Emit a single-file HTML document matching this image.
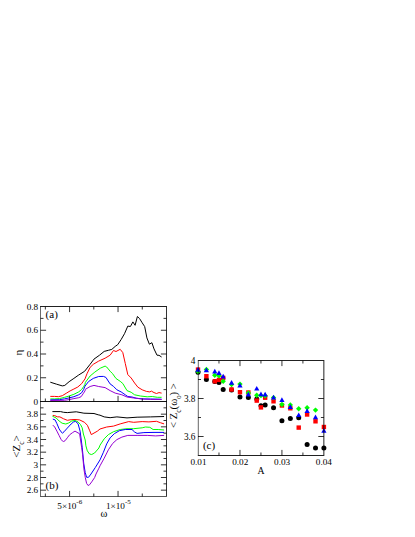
<!DOCTYPE html>
<html><head><meta charset="utf-8"><style>
html,body{margin:0;padding:0;background:#fff;}
svg{display:block;font-family:"Liberation Serif",serif;}
text{fill:#000;}
</style></head><body>
<svg width="415" height="537" viewBox="0 0 415 537">
<rect width="415" height="537" fill="#fff"/>
<polyline points="50.3,382.2 56.6,384.2 62.3,385.9 64.8,385.4 69.1,381.7 73.9,378.4 78.7,375.0 84.6,371.3 90.1,364.3 94.0,359.1 99.5,355.2 104.2,351.4 108.4,350.3 111.8,349.4 115.2,346.4 117.7,344.7 121.1,339.6 124.5,333.7 127.8,326.1 130.4,326.5 132.9,321.9 135.1,325.3 137.4,316.5 139.6,318.6 142.2,322.8 144.7,326.6 146.9,337.9 149.4,344.2 151.9,342.7 154.0,348.9 157.0,355.2 159.0,355.3 161.6,357.0" fill="none" stroke="#000" stroke-width="1.0" stroke-linejoin="round" stroke-linecap="butt"/>
<polyline points="50.3,396.4 54.6,396.4 58.5,396.7 62.3,395.7 66.2,393.3 70.1,390.9 73.9,389.0 77.8,387.0 81.6,383.7 85.0,378.9 87.0,373.7 90.1,367.4 93.3,364.3 98.7,361.1 105.1,358.2 110.1,355.2 113.5,350.5 116.0,351.5 120.2,349.3 122.8,352.6 125.3,363.6 127.8,374.6 131.2,378.0 134.6,383.0 137.9,387.2 142.2,389.8 146.4,391.4 149.8,391.9 151.4,391.1 154.0,392.6 156.5,393.5 159.0,392.6 161.6,393.1" fill="none" stroke="#f00" stroke-width="1.0" stroke-linejoin="round" stroke-linecap="butt"/>
<polyline points="50.3,398.9 54.6,398.9 59.5,398.6 64.3,397.4 69.1,396.0 73.9,394.3 78.7,391.9 81.6,389.5 83.6,386.6 85.0,384.2 85.4,382.3 90.1,376.0 94.8,372.1 100.3,368.2 105.1,366.1 106.7,367.0 110.1,371.2 112.6,373.7 116.0,378.5 120.2,381.3 122.8,383.5 127.0,390.6 131.2,392.3 134.6,394.8 140.5,396.0 147.2,396.8 152.3,396.5 157.3,397.3 161.6,397.3" fill="none" stroke="#0f0" stroke-width="1.0" stroke-linejoin="round" stroke-linecap="butt"/>
<polyline points="50.3,399.9 59.5,399.7 64.3,398.9 69.1,397.9 73.9,396.7 78.7,394.8 81.6,392.8 83.6,389.5 85.0,386.1 88.6,381.5 93.3,378.4 98.7,376.5 103.4,376.4 105.9,377.4 110.1,383.9 113.5,386.4 116.9,389.8 121.1,391.9 125.3,394.8 127.8,396.5 132.0,397.0 136.3,398.2 142.2,398.9 150.6,399.0 161.6,399.2" fill="none" stroke="#00f" stroke-width="1.0" stroke-linejoin="round" stroke-linecap="butt"/>
<polyline points="50.3,400.5 64.3,400.3 69.1,399.6 73.9,398.6 78.7,397.7 81.1,396.7 83.1,393.8 85.0,390.9 85.4,389.3 90.1,386.5 94.0,385.4 98.7,386.5 105.1,387.6 110.1,390.6 115.2,393.1 121.9,394.8 127.0,397.0 133.7,398.0 142.2,399.0 150.6,399.4 161.6,399.5" fill="none" stroke="#9400d3" stroke-width="1.0" stroke-linejoin="round" stroke-linecap="butt"/>
<polyline points="52.4,411.6 60.6,411.6 63.6,412.3 67.3,412.6 75.0,411.9 76.3,411.8 83.9,413.2 94.0,413.5 98.2,414.8 100.0,415.2 104.2,416.9 110.1,417.7 116.9,416.9 127.0,417.9 137.1,417.2 150.6,416.9 164.1,416.5" fill="none" stroke="#000" stroke-width="1.0" stroke-linejoin="round" stroke-linecap="butt"/>
<polyline points="52.8,415.4 54.7,415.6 57.3,416.8 59.9,416.9 63.6,418.8 67.3,420.3 71.1,419.7 75.0,419.5 79.6,419.9 84.5,422.3 87.4,425.3 89.5,430.2 91.3,434.6 97.3,431.2 100.0,429.0 106.7,427.0 113.5,426.1 120.2,423.9 128.7,421.6 133.7,422.3 142.2,421.6 148.9,421.9 156.5,421.3 160.7,422.8 164.1,423.9" fill="none" stroke="#f00" stroke-width="1.0" stroke-linejoin="round" stroke-linecap="butt"/>
<polyline points="52.4,416.2 56.2,418.0 59.1,421.0 62.1,423.2 65.8,424.0 68.8,422.9 71.8,421.0 75.0,420.5 78.0,421.9 80.5,424.5 82.2,427.8 83.4,434.0 85.2,440.0 85.9,445.8 87.3,450.8 89.5,454.0 91.7,454.5 94.6,453.0 98.9,448.0 100.0,445.2 104.2,438.8 108.4,434.6 113.5,431.7 120.2,429.5 127.0,428.7 133.7,428.7 142.2,427.8 145.5,427.0 149.8,427.3 153.1,429.5 158.2,429.5 164.1,430.0" fill="none" stroke="#0f0" stroke-width="1.0" stroke-linejoin="round" stroke-linecap="butt"/>
<polyline points="52.8,419.1 55.1,419.9 56.9,423.6 59.1,428.8 61.0,431.8 62.5,433.1 64.0,431.8 67.3,428.1 71.1,424.0 73.3,422.1 75.0,421.5 75.4,421.4 78.0,423.6 80.1,431.2 82.2,447.2 83.7,463.1 85.2,472.5 86.6,477.3 88.5,477.3 91.0,474.0 95.3,467.5 100.0,459.9 103.4,452.3 106.7,443.9 110.1,437.9 114.3,433.7 119.4,430.7 125.3,429.5 132.0,429.5 134.6,432.0 137.1,433.4 143.9,432.6 154.0,432.4 164.1,432.4" fill="none" stroke="#00f" stroke-width="1.0" stroke-linejoin="round" stroke-linecap="butt"/>
<polyline points="52.8,425.1 54.7,427.0 56.9,431.1 59.1,435.5 61.0,439.3 62.5,441.1 63.6,441.5 65.1,440.7 67.3,437.8 69.6,434.8 72.6,432.6 75.0,431.1 78.0,432.9 79.6,433.7 81.6,447.2 82.6,454.5 83.9,468.9 85.3,477.6 86.6,483.4 88.1,485.5 89.5,484.8 91.7,481.9 94.6,477.6 96.0,474.0 98.9,468.2 100.0,465.8 104.2,458.2 108.4,449.8 112.6,443.5 116.9,439.6 121.9,437.1 127.8,435.4 137.1,435.4 147.2,435.4 155.7,435.9 164.1,435.4" fill="none" stroke="#9400d3" stroke-width="1.0" stroke-linejoin="round" stroke-linecap="butt"/>
<circle cx="198.00" cy="372.30" r="2.5" fill="#000"/>
<circle cx="206.39" cy="379.60" r="2.5" fill="#000"/>
<circle cx="214.79" cy="381.60" r="2.5" fill="#000"/>
<circle cx="218.98" cy="382.50" r="2.5" fill="#000"/>
<circle cx="223.18" cy="389.50" r="2.5" fill="#000"/>
<circle cx="231.57" cy="390.00" r="2.5" fill="#000"/>
<circle cx="239.97" cy="397.10" r="2.5" fill="#000"/>
<circle cx="248.36" cy="397.60" r="2.5" fill="#000"/>
<circle cx="256.75" cy="399.10" r="2.5" fill="#000"/>
<circle cx="260.95" cy="405.80" r="2.5" fill="#000"/>
<circle cx="265.15" cy="404.90" r="2.5" fill="#000"/>
<circle cx="273.54" cy="407.80" r="2.5" fill="#000"/>
<circle cx="281.93" cy="420.70" r="2.5" fill="#000"/>
<circle cx="290.33" cy="418.40" r="2.5" fill="#000"/>
<circle cx="298.72" cy="417.80" r="2.5" fill="#000"/>
<circle cx="307.11" cy="444.40" r="2.5" fill="#000"/>
<circle cx="315.51" cy="447.90" r="2.5" fill="#000"/>
<circle cx="323.90" cy="447.90" r="2.5" fill="#000"/>
<rect x="195.80" y="367.40" width="4.4" height="4.4" fill="#f00"/>
<rect x="204.19" y="374.00" width="4.4" height="4.4" fill="#f00"/>
<rect x="212.59" y="379.10" width="4.4" height="4.4" fill="#f00"/>
<rect x="216.78" y="377.70" width="4.4" height="4.4" fill="#f00"/>
<rect x="220.98" y="375.70" width="4.4" height="4.4" fill="#f00"/>
<rect x="229.37" y="387.30" width="4.4" height="4.4" fill="#f00"/>
<rect x="237.77" y="390.00" width="4.4" height="4.4" fill="#f00"/>
<rect x="246.16" y="390.30" width="4.4" height="4.4" fill="#f00"/>
<rect x="254.55" y="398.40" width="4.4" height="4.4" fill="#f00"/>
<rect x="258.75" y="405.20" width="4.4" height="4.4" fill="#f00"/>
<rect x="262.95" y="395.50" width="4.4" height="4.4" fill="#f00"/>
<rect x="271.34" y="399.10" width="4.4" height="4.4" fill="#f00"/>
<rect x="279.73" y="403.30" width="4.4" height="4.4" fill="#f00"/>
<rect x="288.13" y="406.10" width="4.4" height="4.4" fill="#f00"/>
<rect x="296.52" y="425.40" width="4.4" height="4.4" fill="#f00"/>
<rect x="304.91" y="412.30" width="4.4" height="4.4" fill="#f00"/>
<rect x="313.31" y="419.10" width="4.4" height="4.4" fill="#f00"/>
<rect x="321.70" y="424.80" width="4.4" height="4.4" fill="#f00"/>
<polygon points="195.30,371.50 198.00,368.80 200.70,371.50 198.00,374.20" fill="#0f0"/>
<polygon points="203.69,369.50 206.39,366.80 209.09,369.50 206.39,372.20" fill="#0f0"/>
<polygon points="212.09,375.20 214.79,372.50 217.49,375.20 214.79,377.90" fill="#0f0"/>
<polygon points="216.28,375.70 218.98,373.00 221.68,375.70 218.98,378.40" fill="#0f0"/>
<polygon points="220.48,381.30 223.18,378.60 225.88,381.30 223.18,384.00" fill="#0f0"/>
<polygon points="228.87,384.60 231.57,381.90 234.27,384.60 231.57,387.30" fill="#0f0"/>
<polygon points="237.27,384.10 239.97,381.40 242.67,384.10 239.97,386.80" fill="#0f0"/>
<polygon points="245.66,393.00 248.36,390.30 251.06,393.00 248.36,395.70" fill="#0f0"/>
<polygon points="254.05,395.30 256.75,392.60 259.45,395.30 256.75,398.00" fill="#0f0"/>
<polygon points="258.25,395.60 260.95,392.90 263.65,395.60 260.95,398.30" fill="#0f0"/>
<polygon points="262.45,395.80 265.15,393.10 267.85,395.80 265.15,398.50" fill="#0f0"/>
<polygon points="270.84,397.60 273.54,394.90 276.24,397.60 273.54,400.30" fill="#0f0"/>
<polygon points="279.23,404.50 281.93,401.80 284.63,404.50 281.93,407.20" fill="#0f0"/>
<polygon points="287.63,404.90 290.33,402.20 293.03,404.90 290.33,407.60" fill="#0f0"/>
<polygon points="296.02,408.70 298.72,406.00 301.42,408.70 298.72,411.40" fill="#0f0"/>
<polygon points="304.41,407.80 307.11,405.10 309.81,407.80 307.11,410.50" fill="#0f0"/>
<polygon points="312.81,410.10 315.51,407.40 318.21,410.10 315.51,412.80" fill="#0f0"/>
<polygon points="195.40,371.70 198.00,367.00 200.60,371.70" fill="#00f"/>
<polygon points="203.79,372.30 206.39,367.60 208.99,372.30" fill="#00f"/>
<polygon points="212.19,373.40 214.79,368.70 217.39,373.40" fill="#00f"/>
<polygon points="216.38,375.00 218.98,370.30 221.58,375.00" fill="#00f"/>
<polygon points="220.58,378.40 223.18,373.70 225.78,378.40" fill="#00f"/>
<polygon points="228.97,384.70 231.57,380.00 234.17,384.70" fill="#00f"/>
<polygon points="237.37,387.50 239.97,382.80 242.57,387.50" fill="#00f"/>
<polygon points="245.76,396.50 248.36,391.80 250.96,396.50" fill="#00f"/>
<polygon points="254.15,390.60 256.75,385.90 259.35,390.60" fill="#00f"/>
<polygon points="258.35,396.30 260.95,391.60 263.55,396.30" fill="#00f"/>
<polygon points="262.55,396.50 265.15,391.80 267.75,396.50" fill="#00f"/>
<polygon points="270.94,399.40 273.54,394.70 276.14,399.40" fill="#00f"/>
<polygon points="279.33,401.90 281.93,397.20 284.53,401.90" fill="#00f"/>
<polygon points="287.73,409.00 290.33,404.30 292.93,409.00" fill="#00f"/>
<polygon points="296.12,417.10 298.72,412.40 301.32,417.10" fill="#00f"/>
<polygon points="304.51,412.90 307.11,408.20 309.71,412.90" fill="#00f"/>
<polygon points="312.91,419.20 315.51,414.50 318.11,419.20" fill="#00f"/>
<polygon points="321.30,432.70 323.90,428.00 326.50,432.70" fill="#00f"/>
<line x1="69.58" y1="401.50" x2="69.58" y2="395.90" stroke="#000" stroke-width="0.8"/>
<line x1="69.58" y1="306.50" x2="69.58" y2="312.10" stroke="#000" stroke-width="0.8"/>
<line x1="118.04" y1="401.50" x2="118.04" y2="395.90" stroke="#000" stroke-width="0.8"/>
<line x1="118.04" y1="306.50" x2="118.04" y2="312.10" stroke="#000" stroke-width="0.8"/>
<line x1="45.35" y1="401.50" x2="45.35" y2="398.50" stroke="#000" stroke-width="0.8"/>
<line x1="45.35" y1="306.50" x2="45.35" y2="309.50" stroke="#000" stroke-width="0.8"/>
<line x1="93.81" y1="401.50" x2="93.81" y2="398.50" stroke="#000" stroke-width="0.8"/>
<line x1="93.81" y1="306.50" x2="93.81" y2="309.50" stroke="#000" stroke-width="0.8"/>
<line x1="142.27" y1="401.50" x2="142.27" y2="398.50" stroke="#000" stroke-width="0.8"/>
<line x1="142.27" y1="306.50" x2="142.27" y2="309.50" stroke="#000" stroke-width="0.8"/>
<line x1="69.58" y1="496.50" x2="69.58" y2="490.90" stroke="#000" stroke-width="0.8"/>
<line x1="118.04" y1="496.50" x2="118.04" y2="490.90" stroke="#000" stroke-width="0.8"/>
<line x1="45.35" y1="496.50" x2="45.35" y2="493.50" stroke="#000" stroke-width="0.8"/>
<line x1="93.81" y1="496.50" x2="93.81" y2="493.50" stroke="#000" stroke-width="0.8"/>
<line x1="142.27" y1="496.50" x2="142.27" y2="493.50" stroke="#000" stroke-width="0.8"/>
<line x1="40.50" y1="377.75" x2="46.10" y2="377.75" stroke="#000" stroke-width="0.8"/>
<line x1="166.50" y1="377.75" x2="160.90" y2="377.75" stroke="#000" stroke-width="0.8"/>
<line x1="40.50" y1="354.00" x2="46.10" y2="354.00" stroke="#000" stroke-width="0.8"/>
<line x1="166.50" y1="354.00" x2="160.90" y2="354.00" stroke="#000" stroke-width="0.8"/>
<line x1="40.50" y1="330.25" x2="46.10" y2="330.25" stroke="#000" stroke-width="0.8"/>
<line x1="166.50" y1="330.25" x2="160.90" y2="330.25" stroke="#000" stroke-width="0.8"/>
<line x1="40.50" y1="389.62" x2="43.50" y2="389.62" stroke="#000" stroke-width="0.8"/>
<line x1="166.50" y1="389.62" x2="163.50" y2="389.62" stroke="#000" stroke-width="0.8"/>
<line x1="40.50" y1="365.88" x2="43.50" y2="365.88" stroke="#000" stroke-width="0.8"/>
<line x1="166.50" y1="365.88" x2="163.50" y2="365.88" stroke="#000" stroke-width="0.8"/>
<line x1="40.50" y1="342.12" x2="43.50" y2="342.12" stroke="#000" stroke-width="0.8"/>
<line x1="166.50" y1="342.12" x2="163.50" y2="342.12" stroke="#000" stroke-width="0.8"/>
<line x1="40.50" y1="318.38" x2="43.50" y2="318.38" stroke="#000" stroke-width="0.8"/>
<line x1="166.50" y1="318.38" x2="163.50" y2="318.38" stroke="#000" stroke-width="0.8"/>
<line x1="40.50" y1="490.17" x2="46.10" y2="490.17" stroke="#000" stroke-width="0.8"/>
<line x1="166.50" y1="490.17" x2="160.90" y2="490.17" stroke="#000" stroke-width="0.8"/>
<line x1="40.50" y1="477.50" x2="46.10" y2="477.50" stroke="#000" stroke-width="0.8"/>
<line x1="166.50" y1="477.50" x2="160.90" y2="477.50" stroke="#000" stroke-width="0.8"/>
<line x1="40.50" y1="464.83" x2="46.10" y2="464.83" stroke="#000" stroke-width="0.8"/>
<line x1="166.50" y1="464.83" x2="160.90" y2="464.83" stroke="#000" stroke-width="0.8"/>
<line x1="40.50" y1="452.17" x2="46.10" y2="452.17" stroke="#000" stroke-width="0.8"/>
<line x1="166.50" y1="452.17" x2="160.90" y2="452.17" stroke="#000" stroke-width="0.8"/>
<line x1="40.50" y1="439.50" x2="46.10" y2="439.50" stroke="#000" stroke-width="0.8"/>
<line x1="166.50" y1="439.50" x2="160.90" y2="439.50" stroke="#000" stroke-width="0.8"/>
<line x1="40.50" y1="426.83" x2="46.10" y2="426.83" stroke="#000" stroke-width="0.8"/>
<line x1="166.50" y1="426.83" x2="160.90" y2="426.83" stroke="#000" stroke-width="0.8"/>
<line x1="40.50" y1="414.17" x2="46.10" y2="414.17" stroke="#000" stroke-width="0.8"/>
<line x1="166.50" y1="414.17" x2="160.90" y2="414.17" stroke="#000" stroke-width="0.8"/>
<line x1="40.50" y1="483.83" x2="43.50" y2="483.83" stroke="#000" stroke-width="0.8"/>
<line x1="166.50" y1="483.83" x2="163.50" y2="483.83" stroke="#000" stroke-width="0.8"/>
<line x1="40.50" y1="471.17" x2="43.50" y2="471.17" stroke="#000" stroke-width="0.8"/>
<line x1="166.50" y1="471.17" x2="163.50" y2="471.17" stroke="#000" stroke-width="0.8"/>
<line x1="40.50" y1="458.50" x2="43.50" y2="458.50" stroke="#000" stroke-width="0.8"/>
<line x1="166.50" y1="458.50" x2="163.50" y2="458.50" stroke="#000" stroke-width="0.8"/>
<line x1="40.50" y1="445.83" x2="43.50" y2="445.83" stroke="#000" stroke-width="0.8"/>
<line x1="166.50" y1="445.83" x2="163.50" y2="445.83" stroke="#000" stroke-width="0.8"/>
<line x1="40.50" y1="433.17" x2="43.50" y2="433.17" stroke="#000" stroke-width="0.8"/>
<line x1="166.50" y1="433.17" x2="163.50" y2="433.17" stroke="#000" stroke-width="0.8"/>
<line x1="40.50" y1="420.50" x2="43.50" y2="420.50" stroke="#000" stroke-width="0.8"/>
<line x1="166.50" y1="420.50" x2="163.50" y2="420.50" stroke="#000" stroke-width="0.8"/>
<line x1="40.50" y1="407.83" x2="43.50" y2="407.83" stroke="#000" stroke-width="0.8"/>
<line x1="166.50" y1="407.83" x2="163.50" y2="407.83" stroke="#000" stroke-width="0.8"/>
<line x1="239.97" y1="455.50" x2="239.97" y2="449.90" stroke="#000" stroke-width="0.8"/>
<line x1="239.97" y1="360.50" x2="239.97" y2="366.10" stroke="#000" stroke-width="0.8"/>
<line x1="281.93" y1="455.50" x2="281.93" y2="449.90" stroke="#000" stroke-width="0.8"/>
<line x1="281.93" y1="360.50" x2="281.93" y2="366.10" stroke="#000" stroke-width="0.8"/>
<line x1="218.98" y1="455.50" x2="218.98" y2="452.50" stroke="#000" stroke-width="0.8"/>
<line x1="218.98" y1="360.50" x2="218.98" y2="363.50" stroke="#000" stroke-width="0.8"/>
<line x1="260.95" y1="455.50" x2="260.95" y2="452.50" stroke="#000" stroke-width="0.8"/>
<line x1="260.95" y1="360.50" x2="260.95" y2="363.50" stroke="#000" stroke-width="0.8"/>
<line x1="302.92" y1="455.50" x2="302.92" y2="452.50" stroke="#000" stroke-width="0.8"/>
<line x1="302.92" y1="360.50" x2="302.92" y2="363.50" stroke="#000" stroke-width="0.8"/>
<line x1="198.00" y1="436.50" x2="203.60" y2="436.50" stroke="#000" stroke-width="0.8"/>
<line x1="323.90" y1="436.50" x2="318.30" y2="436.50" stroke="#000" stroke-width="0.8"/>
<line x1="198.00" y1="398.50" x2="203.60" y2="398.50" stroke="#000" stroke-width="0.8"/>
<line x1="323.90" y1="398.50" x2="318.30" y2="398.50" stroke="#000" stroke-width="0.8"/>
<line x1="198.00" y1="417.50" x2="201.00" y2="417.50" stroke="#000" stroke-width="0.8"/>
<line x1="323.90" y1="417.50" x2="320.90" y2="417.50" stroke="#000" stroke-width="0.8"/>
<line x1="198.00" y1="379.50" x2="201.00" y2="379.50" stroke="#000" stroke-width="0.8"/>
<line x1="323.90" y1="379.50" x2="320.90" y2="379.50" stroke="#000" stroke-width="0.8"/>
<rect x="40.00" y="307.00" width="1.0" height="189.00" fill="#000" fill-opacity="0.58"/>
<rect x="166.00" y="307.00" width="1.0" height="189.00" fill="#000" fill-opacity="0.8"/>
<rect x="40.00" y="306.00" width="127.00" height="1.0" fill="#000" fill-opacity="0.87"/>
<rect x="40.00" y="401.00" width="127.00" height="1.0" fill="#000" fill-opacity="0.93"/>
<rect x="40.00" y="496.00" width="127.00" height="1.0" fill="#000" fill-opacity="0.65"/>
<rect x="197.80" y="361.00" width="1.0" height="94.00" fill="#000" fill-opacity="0.6"/>
<rect x="323.35" y="361.00" width="1.0" height="94.00" fill="#000" fill-opacity="0.87"/>
<rect x="197.80" y="360.00" width="126.55" height="1.0" fill="#000" fill-opacity="0.87"/>
<rect x="197.80" y="455.00" width="126.55" height="1.0" fill="#000" fill-opacity="0.87"/>
<text x="38.20" y="404.70" font-size="9.2" text-anchor="end">0</text>
<text x="38.20" y="380.95" font-size="9.2" text-anchor="end">0.2</text>
<text x="38.20" y="357.20" font-size="9.2" text-anchor="end">0.4</text>
<text x="38.20" y="333.45" font-size="9.2" text-anchor="end">0.6</text>
<text x="38.20" y="309.70" font-size="9.2" text-anchor="end">0.8</text>
<text x="38.20" y="493.37" font-size="9.2" text-anchor="end">2.6</text>
<text x="38.20" y="480.70" font-size="9.2" text-anchor="end">2.8</text>
<text x="38.20" y="468.03" font-size="9.2" text-anchor="end">3</text>
<text x="38.20" y="455.37" font-size="9.2" text-anchor="end">3.2</text>
<text x="38.20" y="442.70" font-size="9.2" text-anchor="end">3.4</text>
<text x="38.20" y="430.03" font-size="9.2" text-anchor="end">3.6</text>
<text x="38.20" y="417.37" font-size="9.2" text-anchor="end">3.8</text>
<text x="195.50" y="439.60" font-size="9.3" text-anchor="end">3.6</text>
<text x="195.50" y="401.60" font-size="9.3" text-anchor="end">3.8</text>
<text x="195.50" y="363.60" font-size="9.3" text-anchor="end">4</text>
<text x="198.50" y="464.60" font-size="9.2" text-anchor="middle">0.01</text>
<text x="240.27" y="464.60" font-size="9.2" text-anchor="middle">0.02</text>
<text x="282.08" y="464.60" font-size="9.2" text-anchor="middle">0.03</text>
<text x="323.90" y="464.60" font-size="9.2" text-anchor="middle">0.04</text>
<text x="69.78" y="509.00" font-size="9.2" text-anchor="middle">5×10<tspan dy="-4.6" font-size="7">-6</tspan></text>
<text x="118.34" y="509.00" font-size="9.2" text-anchor="middle">1×10<tspan dy="-4.6" font-size="7">-5</tspan></text>
<text x="104.00" y="516.70" font-size="10.5" text-anchor="middle">ω</text>
<text x="260.90" y="473.90" font-size="9.7" text-anchor="middle">A</text>
<text x="45.60" y="317.50" font-size="11">(a)</text>
<text x="45.60" y="489.00" font-size="11">(b)</text>
<text x="202.90" y="448.50" font-size="11">(c)</text>
<text transform="translate(21.60,355.40) rotate(-90)" font-size="11">η</text>
<text transform="translate(19.90,457.80) rotate(-90)" font-size="11">&lt;Z<tspan dy="3.6" font-size="7.7">c</tspan><tspan dy="-3.6">&gt;</tspan></text>
<text transform="translate(177.00,427.97) rotate(-90)" font-size="10.7">&lt; Z<tspan dy="3.5" font-size="7.5">c</tspan><tspan dy="-3.5">(ω</tspan><tspan dy="3.5" font-size="6.5">0</tspan><tspan dy="-3.5">) &gt;</tspan></text>
</svg></body></html>
